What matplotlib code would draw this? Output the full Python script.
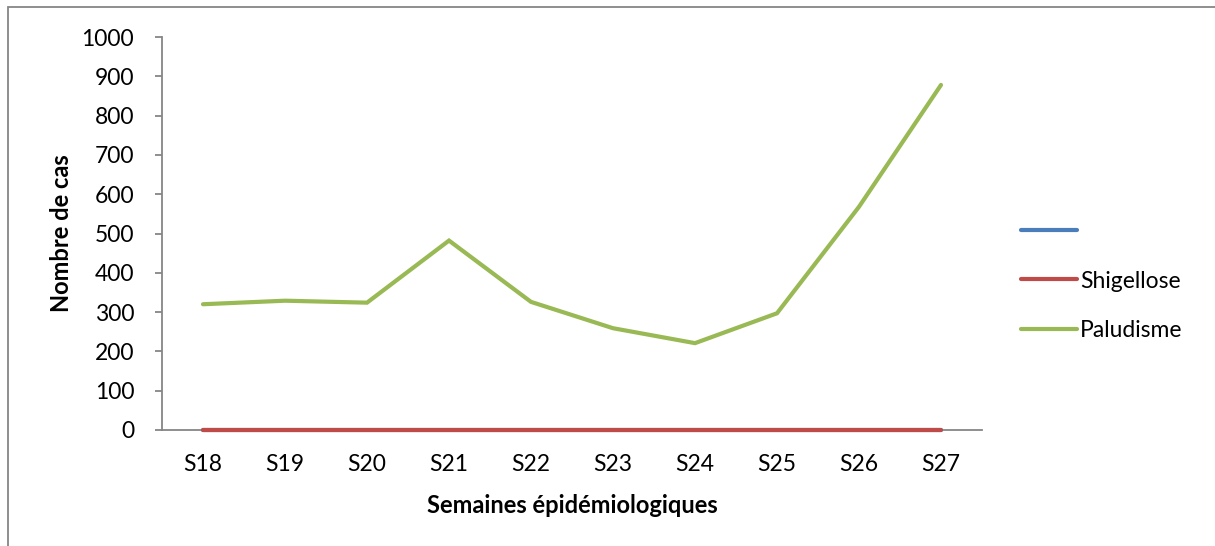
import matplotlib
matplotlib.use("Agg")
import matplotlib.pyplot as plt

weeks = ["S18", "S19", "S20", "S21", "S22", "S23", "S24", "S25", "S26", "S27"]
serie_vide = [0, 0, 0, 0, 0, 0, 0, 0, 0, 0]
shigellose = [0, 0, 0, 0, 0, 0, 0, 0, 0, 0]
paludisme = [320, 329, 324, 482, 326, 259, 221, 297, 568, 878]
y_ticks = [0, 100, 200, 300, 400, 500, 600, 700, 800, 900, 1000]

plt.rcParams['font.family'] = ['Lato', 'DejaVu Sans']

W, H = 1215, 546
FS = 16.5
fig = plt.figure(figsize=(W / 100, H / 100), dpi=100)
ax = fig.add_axes([162 / W, 1 - 430 / H, (982 - 162) / W, (430 - 37) / H])

x = list(range(len(weeks)))
lw = 3.0
ax.plot(x, serie_vide, color="#4A7EBB", lw=lw, solid_capstyle="round", label=" ", clip_on=False, zorder=3)
ax.plot(x, shigellose, color="#BE4B48", lw=lw, solid_capstyle="round", label="Shigellose", clip_on=False, zorder=4)
ax.plot(x, paludisme, color="#98B954", lw=lw, solid_capstyle="round", solid_joinstyle="miter", label="Paludisme", clip_on=False, zorder=5)

ax.set_xlim(-0.5, len(weeks) - 0.5)
ax.set_ylim(0, 1000)
ax.set_yticks(y_ticks)
ax.set_xticks(x)
ax.set_xticklabels(weeks)

for s in ["top", "right"]:
    ax.spines[s].set_visible(False)
for s in ["left", "bottom"]:
    ax.spines[s].set_color("#868686")
    ax.spines[s].set_linewidth(1.3)

ax.tick_params(axis="y", length=5, width=1.3, color="#868686", pad=15, labelsize=FS)
ax.tick_params(axis="x", length=0, pad=17, labelsize=FS)

ax.set_xlabel("Semaines épidémiologiques", fontsize=FS + 0.5, fontweight="bold", labelpad=14)
ax.set_ylabel("Nombre de cas", fontsize=FS + 0.5, fontweight="bold", labelpad=6)

leg = ax.legend(loc="center left", bbox_to_anchor=(1021 / W, 1 - 281 / H),
                bbox_transform=fig.transFigure, frameon=False, fontsize=FS,
                handlelength=2.45, handletextpad=0.12, labelspacing=1.25,
                borderaxespad=0, borderpad=0)

# outer chart frame
fig.add_artist(plt.Rectangle((8 / W, -0.05), (W + 20) / W, 1 - 7.5 / H + 0.05,
                             transform=fig.transFigure, fill=False,
                             edgecolor="#868686", linewidth=1.3))

fig.savefig("out.png", dpi=100)
